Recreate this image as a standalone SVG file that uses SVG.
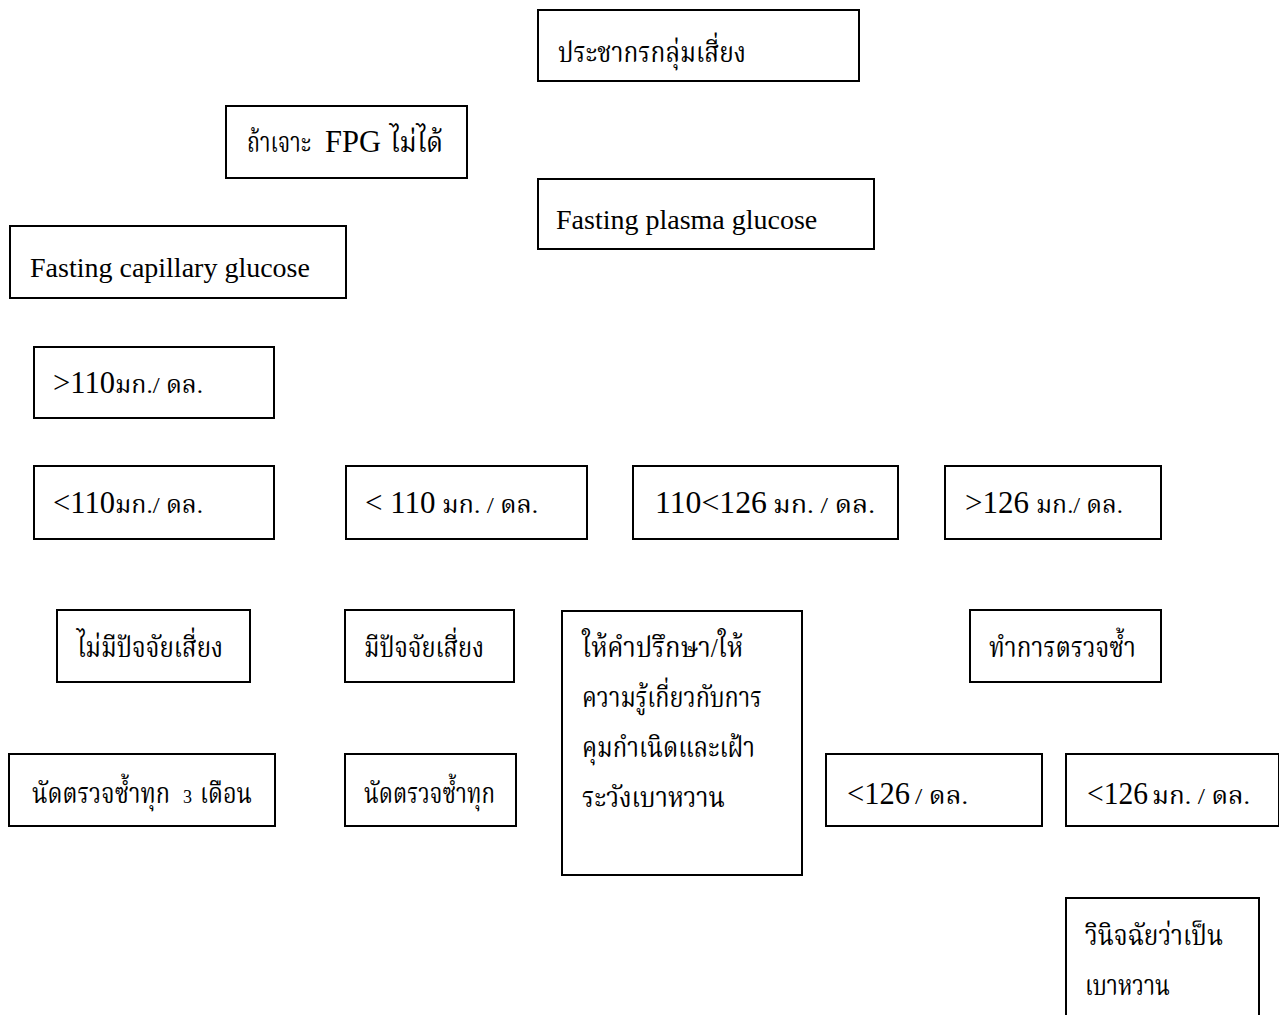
<svg xmlns="http://www.w3.org/2000/svg" width="1279" height="1015" viewBox="0 0 1279 1015">
<style>
rect{fill:#fff;stroke:#000;stroke-width:2}
text{font-family:"Liberation Serif","Noto Serif Thai","Noto Sans Thai",serif;font-size:28px;fill:#000}
.t{font-size:28px}
.u{font-size:24px}
.e{font-size:28px}
.n{font-size:31px}
</style>
<rect x="0" y="0" width="1279" height="1015" style="stroke:none"/>
<g id="n1"><rect x="538" y="10" width="321" height="71"/><text class="t" x="558" y="62" textLength="188" lengthAdjust="spacingAndGlyphs">ประชากรกลุ่มเสี่ยง</text></g>
<g id="n2"><rect x="226" y="106" width="241" height="72"/><text y="152"><tspan class="t" x="247" textLength="64" lengthAdjust="spacingAndGlyphs">ถ้าเจาะ</tspan><tspan class="n" x="325" textLength="56" lengthAdjust="spacingAndGlyphs">FPG</tspan><tspan class="t" x="390" textLength="53" lengthAdjust="spacingAndGlyphs">ไม่ได้</tspan></text></g>
<g id="n3"><rect x="538" y="179" width="336" height="70"/><text class="e" x="556" y="229">Fasting plasma glucose</text></g>
<g id="n4"><rect x="10" y="226" width="336" height="72"/><text class="e" x="30" y="277">Fasting capillary glucose</text></g>
<g id="n5"><rect x="34" y="347" width="240" height="71"/><text class="n" x="53" y="393" textLength="62" lengthAdjust="spacingAndGlyphs">&gt;110</text><text class="u" x="115" y="393" textLength="88" lengthAdjust="spacingAndGlyphs">มก./ ดล.</text></g>
<g id="n6"><rect x="34" y="466" width="240" height="73"/><text class="n" x="53" y="513" textLength="62" lengthAdjust="spacingAndGlyphs">&lt;110</text><text class="u" x="115" y="513" textLength="88" lengthAdjust="spacingAndGlyphs">มก./ ดล.</text></g>
<g id="n7"><rect x="346" y="466" width="241" height="73"/><text class="n" x="365" y="513">&lt; 110</text><text class="u" x="442" y="513" textLength="96" lengthAdjust="spacingAndGlyphs">มก. / ดล.</text></g>
<g id="n8"><rect x="633" y="466" width="265" height="73"/><text class="n" x="655" y="513" textLength="112" lengthAdjust="spacingAndGlyphs">110&lt;126</text><text class="u" x="773" y="513" textLength="102" lengthAdjust="spacingAndGlyphs">มก. / ดล.</text></g>
<g id="n9"><rect x="945" y="466" width="216" height="73"/><text class="n" x="965" y="513" textLength="64" lengthAdjust="spacingAndGlyphs">&gt;126</text><text class="u" x="1036" y="513" textLength="87" lengthAdjust="spacingAndGlyphs">มก./ ดล.</text></g>
<g id="n10"><rect x="57" y="610" width="193" height="72"/><text class="t" x="77" y="657" textLength="146" lengthAdjust="spacingAndGlyphs">ไม่มีปัจจัยเสี่ยง</text></g>
<g id="n11"><rect x="345" y="610" width="169" height="72"/><text class="t" x="364" y="657" textLength="120" lengthAdjust="spacingAndGlyphs">มีปัจจัยเสี่ยง</text></g>
<g id="n12"><rect x="562" y="611" width="240" height="264"/><text class="t" x="582" y="657" textLength="161" lengthAdjust="spacingAndGlyphs">ให้คำปรึกษา/ให้</text><text class="t" x="582" y="707" textLength="180" lengthAdjust="spacingAndGlyphs">ความรู้เกี่ยวกับการ</text><text class="t" x="582" y="757" textLength="173" lengthAdjust="spacingAndGlyphs">คุมกำเนิดและเฝ้า</text><text class="t" x="582" y="807" textLength="143" lengthAdjust="spacingAndGlyphs">ระวังเบาหวาน</text></g>
<g id="n13"><rect x="970" y="610" width="191" height="72"/><text class="t" x="989" y="657" textLength="147" lengthAdjust="spacingAndGlyphs">ทำการตรวจซ้ำ</text></g>
<g id="n14"><rect x="9" y="754" width="266" height="72"/><text y="803"><tspan class="t" x="32" textLength="138" lengthAdjust="spacingAndGlyphs">นัดตรวจซ้ำทุก</tspan><tspan x="183" style="font-size:18px">3</tspan><tspan class="t" x="200" textLength="52" lengthAdjust="spacingAndGlyphs">เดือน</tspan></text></g>
<g id="n15"><rect x="345" y="754" width="171" height="72"/><text class="t" x="364" y="803" textLength="131" lengthAdjust="spacingAndGlyphs">นัดตรวจซ้ำทุก</text></g>
<g id="n16"><rect x="826" y="754" width="216" height="72"/><text class="n" x="847" y="804" textLength="63" lengthAdjust="spacingAndGlyphs">&lt;126</text><text class="u" x="915" y="804" textLength="53" lengthAdjust="spacingAndGlyphs">/ ดล.</text></g>
<g id="n17"><rect x="1066" y="754" width="213" height="72"/><text class="n" x="1087" y="804" textLength="61" lengthAdjust="spacingAndGlyphs">&lt;126</text><text class="u" x="1152" y="804" textLength="98" lengthAdjust="spacingAndGlyphs">มก. / ดล.</text></g>
<g id="n18"><rect x="1066" y="898" width="193" height="130"/><text class="t" x="1085" y="945" textLength="138" lengthAdjust="spacingAndGlyphs">วินิจฉัยว่าเป็น</text><text class="t" x="1085" y="995" textLength="85" lengthAdjust="spacingAndGlyphs">เบาหวาน</text></g>
<g id="connectors"></g>
</svg>
